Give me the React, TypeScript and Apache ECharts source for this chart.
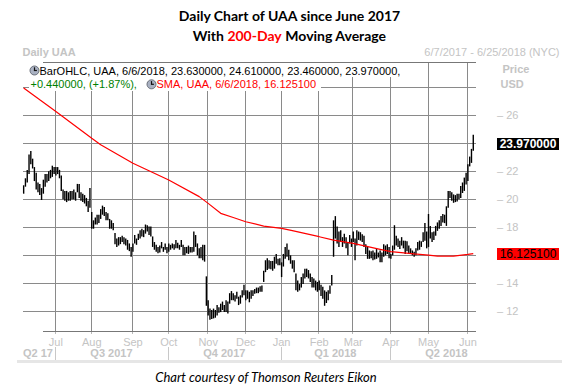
import React, { useEffect, useRef } from 'react';
import * as echarts from 'echarts';

const MONTH_NAMES = ['Jan', 'Feb', 'Mar', 'Apr', 'May', 'Jun', 'Jul', 'Aug', 'Sep', 'Oct', 'Nov', 'Dec'];
const HOLIDAYS = ['2017-07-04', '2017-09-04', '2017-11-23', '2017-12-25', '2018-01-01', '2018-01-15', '2018-02-19', '2018-03-30', '2018-05-28'];
const FIRST_DAY = '2017-06-07';

// [low, high] for every trading day
const jun17 = [[20.4,21.0],[20.9,21.5],[21.2,22.1],[21.8,23.2],[22.5,23.45],[22.2,22.9],[21.3,22.3],[20.7,21.9],[20.5,21.2],[20.3,21.1],[19.95,20.8],[20.4,21.4],[20.9,21.8],[21.2,21.8],[21.3,22.0],[21.5,22.1],[21.6,22.4],[21.8,22.3]];
const jul17 = [[21.7,22.3],[21.8,22.3],[21.5,22.1],[20.6,21.7],[20.0,20.7],[19.9,20.6],[19.8,20.6],[19.9,20.5],[19.9,20.6],[20.0,20.6],[20.0,20.7],[19.9,20.5],[20.5,21.1],[20.1,21.1],[19.9,20.5],[19.8,20.4],[19.7,20.3],[19.5,20.1],[19.1,19.9],[19.4,20.8]];
const aug17 = [[17.9,19.1],[17.9,18.5],[18.2,18.7],[18.2,18.9],[18.3,18.9],[18.6,19.3],[18.9,19.55],[18.8,19.45],[18.5,19.1],[18.5,19.0],[17.9,18.6],[17.9,18.5],[17.8,18.3],[16.8,17.6],[16.6,17.2],[16.7,17.3],[16.8,17.3],[16.95,17.4],[16.8,17.3],[16.7,17.2],[16.4,17.1],[16.3,16.85],[15.9,16.6]];
const sep17 = [[16.25,16.85],[16.85,17.45],[16.75,17.2],[17.1,17.55],[17.2,17.8],[17.35,17.9],[17.3,17.8],[17.55,18.2],[17.7,18.15],[17.45,18.05],[17.35,18.05],[16.6,17.35],[16.4,16.95],[16.25,16.75],[16.15,16.6],[16.2,16.7],[16.5,16.95],[16.25,16.6],[16.4,16.85],[16.15,16.6]];
const oct17 = [[16.25,16.85],[16.4,16.75],[16.5,16.85],[16.4,16.8],[16.5,17.1],[16.5,16.9],[16.4,16.75],[16.6,17.1],[16.0,16.75],[16.0,16.6],[16.15,16.6],[16.1,16.7],[16.2,16.6],[16.2,16.6],[16.25,17.7],[16.6,17.45],[16.0,16.85],[15.8,16.5],[15.8,16.6],[15.65,16.75],[15.55,16.75],[12.4,14.5]];
const nov17 = [[11.7,12.8],[11.4,12.2],[11.45,12.1],[11.5,12.2],[11.55,12.1],[11.7,12.45],[11.9,12.3],[11.95,12.55],[12.1,12.7],[11.95,12.45],[11.95,12.8],[11.85,12.7],[12.55,13.3],[12.8,13.45],[12.8,13.3],[12.7,13.15],[12.9,13.4],[12.45,13.05],[12.55,13.15],[13.0,13.5],[13.15,13.9]];
const dec17 = [[12.8,13.5],[12.9,13.5],[12.65,13.4],[12.9,13.5],[13.1,13.5],[13.25,13.6],[13.3,13.7],[13.3,13.7],[13.4,13.8],[13.4,13.85],[14.1,14.9],[14.8,15.65],[14.95,15.8],[15.05,15.65],[15.0,15.6],[14.9,15.6],[15.05,15.9],[15.4,16.1],[15.3,15.75],[15.3,15.8]];
const jan18 = [[14.45,15.5],[15.2,16.1],[15.75,16.6],[15.9,16.85],[15.65,16.4],[15.4,16.0],[15.05,15.65],[14.8,15.65],[13.5,14.7],[13.4,14.2],[13.5,13.95],[13.7,14.45],[13.95,14.7],[14.35,15.05],[14.45,15.05],[14.35,14.95],[14.1,14.7],[13.7,14.45],[13.7,14.35],[13.5,14.2],[13.4,14.1]];
const feb18 = [[13.5,14.2],[13.1,13.9],[12.9,13.75],[12.4,13.5],[12.6,13.4],[12.8,13.5],[13.25,13.85],[13.85,14.6],[15.9,18.5],[17.2,18.8],[16.85,18.05],[16.6,17.7],[16.95,17.8],[16.6,17.3],[16.85,17.55],[16.5,17.3],[16.0,16.95],[16.85,17.45],[16.6,17.2]];
const mar18 = [[16.95,17.7],[15.65,17.2],[16.7,17.8],[17.1,17.7],[17.05,17.65],[16.95,17.5],[16.6,17.4],[16.1,16.8],[15.75,16.6],[15.75,16.35],[15.8,16.3],[15.65,16.35],[15.7,16.2],[15.75,16.45],[15.85,16.2],[15.5,16.35],[15.5,16.2],[15.9,16.8],[16.0,16.7],[16.1,16.8],[15.8,16.6]];
const apr18 = [[15.75,16.1],[16.0,16.7],[16.4,18.15],[16.7,17.4],[16.6,17.2],[16.45,17.05],[16.7,17.3],[16.5,17.05],[16.1,17.05],[16.3,17.0],[16.1,16.7],[16.1,16.5],[16.0,16.35],[15.9,16.25],[16.0,16.5],[16.35,16.95],[16.4,17.05],[16.6,17.0],[16.95,17.65],[17.05,18.3],[16.5,17.7]];
const may18 = [[16.6,18.95],[17.2,18.1],[16.95,17.65],[17.1,17.7],[17.4,18.1],[17.75,18.35],[17.9,18.5],[18.1,18.8],[18.35,18.95],[18.3,18.9],[18.1,19.5],[19.4,20.6],[20.1,20.6],[19.9,20.5],[19.75,20.35],[19.8,20.3],[19.85,20.4],[20.0,20.4],[20.1,20.95],[20.45,21.2],[20.6,21.55],[21.05,21.9]];
const jun18 = [[21.3,22.5],[22.35,23.05],[22.6,23.6],[23.46,24.61]];

const BARS = [...jun17, ...jul17, ...aug17, ...sep17, ...oct17, ...nov17, ...dec17, ...jan18, ...feb18, ...mar18, ...apr18, ...may18, ...jun18];

const LAST_DATE = '6/6/2018';
const LAST_OPEN = 23.63;
const LAST_HIGH = 24.61;
const LAST_LOW = 23.46;
const LAST_CLOSE = 23.97;
const LAST_CHANGE = 0.44;
const LAST_CHANGE_PCT = 1.87;

// 200-day SMA read at points along the red line
const SMA_DATES = ['2017-06-07','2017-06-20','2017-07-03','2017-08-01','2017-08-08','2017-09-01','2017-10-02','2017-10-25','2017-11-01','2017-11-10','2017-11-21','2017-12-01','2017-12-15','2018-01-02','2018-01-10','2018-02-01','2018-02-13','2018-03-01','2018-03-22','2018-04-02','2018-04-19','2018-05-01','2018-05-08','2018-05-21','2018-06-01','2018-06-06'];
const SMA_VALUES = [27.95,27.1,26.26,24.36,23.9,22.57,21.38,20.19,19.71,19.0,18.7,18.4,18.09,17.93,17.76,17.33,17.09,16.86,16.43,16.26,16.1,16.02,15.95,15.95,16.07,16.1251];
const SMA_LAST = 16.1251;

const Y_MIN = 10.6;
const Y_MAX = 29.8;
const Y_GRID = [12, 14, 16, 18, 20, 22, 24, 26, 28];
const Y_TICK_LABELS = [12, 14, 16, 18, 20, 22, 24, 26];
const QUARTER_NAMES = ['Q2 17', 'Q3 2017', 'Q4 2017', 'Q1 2018', 'Q2 2018'];

function tradingDays(start: string, count: number): string[] {
  const out: string[] = [];
  const d = new Date(start + 'T00:00:00Z');
  while (out.length < count) {
    const iso = d.toISOString().slice(0, 10);
    const wd = d.getUTCDay();
    if (wd !== 0 && wd !== 6 && !HOLIDAYS.includes(iso)) out.push(iso);
    d.setUTCDate(d.getUTCDate() + 1);
  }
  return out;
}

const CATS = tradingDays(FIRST_DAY, BARS.length + 1);
const MONTH_STARTS: number[] = [];
CATS.forEach((c, i) => { if (i > 0 && c.slice(0, 7) !== CATS[i - 1].slice(0, 7)) MONTH_STARTS.push(i); });
const QUARTER_STARTS = MONTH_STARTS.filter((i) => [1, 4, 7, 10].includes(+CATS[i].slice(5, 7)));
const QUARTER_LABEL_AT: Record<number, string> = {};
{
  const s = [0, ...QUARTER_STARTS];
  s.forEach((st, k) => {
    let idx: number;
    if (k === 0) idx = Math.floor(s[1] / 2) - 1;
    else if (k < s.length - 1) idx = Math.floor((st + s[k + 1]) / 2);
    else idx = st + 31;
    QUARTER_LABEL_AT[idx] = QUARTER_NAMES[k];
  });
}

const FONT = '"Liberation Sans", Arial, sans-serif';
const LIGHT = '#c4c4c4';
const GRID = '#8a8a8a';
const GRID_LEFT = 22.76;
const GRID_RIGHT = 92.04;
const GRID_TOP = 62;
const GRID_BOTTOM = 57;
const W = 568;
const H = 388;
// legend text rows (the rules stop short of them)
const LEGEND1 = { x1: 29, x2: 408, y1: 64, y2: 77 };
const LEGEND2 = { x1: 29, x2: 321, y1: 77, y2: 91 };

function fmt(v: number) { return v.toFixed(6); }

export default function App() {
  const ref = useRef<HTMLDivElement>(null);
  useEffect(() => {
    if (!ref.current) return;
    const chart = echarts.init(ref.current, undefined, { renderer: 'svg' });
    const barData = BARS.map((b, i) => [i, b[0], b[1]]);
    const smaData = SMA_DATES.map((d, i) => [CATS.indexOf(d), SMA_VALUES[i]]);

    const option: any = {
      animation: false,
      grid: { left: GRID_LEFT, right: GRID_RIGHT, top: GRID_TOP, bottom: GRID_BOTTOM, containLabel: false },
      xAxis: [
        {
          type: 'category', data: CATS, boundaryGap: true,
          axisLine: { show: false }, axisTick: { show: false }, splitLine: { show: false },
          axisLabel: {
            interval: (i: number) => MONTH_STARTS.includes(i),
            formatter: (v: string) => MONTH_NAMES[+v.slice(5, 7) - 1],
            color: LIGHT, fontSize: 11, fontFamily: FONT, margin: 6, lineHeight: 10,
          },
        },
        {
          type: 'category', data: CATS, boundaryGap: true, position: 'bottom', offset: 16,
          axisLine: { show: false }, axisTick: { show: false }, splitLine: { show: false },
          axisLabel: {
            interval: (i: number) => QUARTER_LABEL_AT[i] !== undefined,
            formatter: (v: string) => QUARTER_LABEL_AT[CATS.indexOf(v)] || '',
            color: LIGHT, fontSize: 11, fontFamily: FONT, fontWeight: 'bold', margin: 1, lineHeight: 10,
          },
        },
      ],
      yAxis: {
        type: 'value', position: 'right', min: Y_MIN, max: Y_MAX, splitNumber: 10,
        axisLine: { show: false }, axisTick: { show: false }, splitLine: { show: false },
        axisLabel: {
          margin: 21, color: LIGHT, fontSize: 11, fontFamily: FONT,
          showMinLabel: false, showMaxLabel: false,
          formatter: (v: number) => {
            const r = Math.round(v * 100) / 100;
            if (!Y_TICK_LABELS.includes(r)) return '';
            if (Math.abs(r - LAST_CLOSE) < 0.5 || Math.abs(r - SMA_LAST) < 0.5) return '';
            return '\u2013 ' + r;
          },
        },
      },
      series: [
        {
          type: 'custom', name: 'BarOHLC', data: barData, encode: { x: 0, y: [1, 2] }, z: 3,
          renderItem: (params: any, api: any) => {
            const i = api.value(0);
            const lo = api.coord([i, api.value(1)]);
            const hi = api.coord([i, api.value(2)]);
            return { type: 'line', shape: { x1: lo[0], y1: lo[1], x2: hi[0], y2: hi[1] }, style: { stroke: '#000', lineWidth: 1.4 } };
          },
        },
        {
          type: 'line', name: 'SMA', data: smaData, symbol: 'none', showSymbol: false, z: 4,
          lineStyle: { color: '#ff0000', width: 1.2 },
        },
      ],
    };
    chart.setOption(option);

    const n = CATS.length;
    const plotW = W - GRID_LEFT - GRID_RIGHT;
    const plotH = H - GRID_TOP - GRID_BOTTOM;
    let cx0 = Number(chart.convertToPixel({ xAxisIndex: 0 }, 0));
    let cx1 = Number(chart.convertToPixel({ xAxisIndex: 0 }, 1));
    if (!isFinite(cx0) || !isFinite(cx1) || cx1 <= cx0) {
      cx0 = GRID_LEFT + plotW / n / 2;
      cx1 = cx0 + plotW / n;
    }
    const bw = cx1 - cx0;
    const xb = (i: number) => cx0 - bw / 2 + i * bw;
    const py = (v: number) => {
      const p = Number(chart.convertToPixel({ yAxisIndex: 0 }, v));
      return isFinite(p) ? p : GRID_TOP + (Y_MAX - v) / (Y_MAX - Y_MIN) * plotH;
    };
    const xL = Math.round(xb(0));
    const xR = Math.round(xb(n));
    const yT = Math.round(py(Y_MAX));
    const yB = Math.round(py(Y_MIN));

    const hr = (x1: number, x2: number, y: number, h: number, fill: string, z = 1) => ({
      type: 'rect', z, silent: true, shape: { x: x1, y: Math.round(y), width: x2 - x1, height: h }, style: { fill },
    });
    const vr = (x: number, y1: number, y2: number, fill: string, z = 1) => ({
      type: 'rect', z, silent: true, shape: { x: Math.round(x), y: y1, width: 1, height: y2 - y1 }, style: { fill },
    });

    // grid rules, kept out of the legend rows
    const rules: any[] = [];
    Y_GRID.forEach((v) => {
      const y = Math.round(py(v));
      if (y >= LEGEND2.y1 && y < LEGEND2.y2) {
        rules.push(hr(xL, LEGEND2.x1, y, 1, GRID));
        rules.push(hr(LEGEND2.x2, xR, y, 1, GRID));
      } else if (y >= LEGEND1.y1 && y < LEGEND1.y2) {
        rules.push(hr(xL, LEGEND1.x1, y, 1, GRID));
        rules.push(hr(LEGEND1.x2, xR, y, 1, GRID));
      } else rules.push(hr(xL, xR, y, 1, GRID));
    });
    MONTH_STARTS.forEach((i) => {
      const x = xb(i);
      const top = x < LEGEND2.x2 ? LEGEND2.y2 : x < LEGEND1.x2 ? LEGEND1.y2 : yT;
      rules.push(vr(x, top, yB, GRID));
      rules.push(vr(x, yB, yB + 3, '#b8b8b8'));
    });
    QUARTER_STARTS.forEach((i) => rules.push(vr(xb(i), yB + 16, yB + 29, '#c8c8c8')));
    rules.push(hr(xL + 20, xR, yT, 1, '#777'));
    rules.push(hr(xL + 20, xR, yB, 1, '#777'));
    rules.push(hr(17, 562, 360, 3, '#e6e6e6'));

    const clock = (cx: number, cy: number) => ({
      type: 'group', z: 110,
      children: [
        { type: 'circle', shape: { cx, cy, r: 4.5 }, style: { fill: '#a9b1c2', stroke: '#505560', lineWidth: 0.8 }, z: 110 },
        { type: 'rect', shape: { x: cx - 0.6, y: cy - 3.2, width: 1.2, height: 3.2 }, style: { fill: '#111' }, z: 111 },
        { type: 'rect', shape: { x: cx - 0.6, y: cy - 0.6, width: 3, height: 1.2 }, style: { fill: '#111' }, z: 111 },
      ],
    });
    const txt = (x: number, y: number, text: string, font: string, fill: string, align = 'left') => ({
      type: 'text', x, y, z: 112,
      style: { text, font, fill, textAlign: align, textVerticalAlign: 'middle' },
    });
    const flag = (v: number, text: string, fill: string, bg: string, bold: boolean) => ({
      type: 'group', z: 120,
      children: [
        { type: 'rect', z: 120, shape: { x: xR + 21, y: Math.round(py(v)) - 6, width: 62, height: 12 }, style: { fill: bg } },
        { type: 'text', z: 121, x: xR + 21 + 31, y: Math.round(py(v)), style: { text, font: `${bold ? 'bold ' : ''}12px ${FONT}`, fill, textAlign: 'center', textVerticalAlign: 'middle' } },
      ],
    });

    const line1 = `BarOHLC, UAA, ${LAST_DATE}, ${fmt(LAST_OPEN)}, ${fmt(LAST_HIGH)}, ${fmt(LAST_LOW)}, ${fmt(LAST_CLOSE)},`;
    const line2g = `+${fmt(LAST_CHANGE)}, (+${LAST_CHANGE_PCT.toFixed(2)}%),`;
    const line2r = `SMA, UAA, ${LAST_DATE}, ${fmt(SMA_LAST)}`;

    const graphics: any[] = [
      { type: 'group', z: 1, silent: true, children: rules },
      flag(LAST_CLOSE, fmt(LAST_CLOSE), '#fff', '#000', true),
      flag(SMA_LAST, fmt(SMA_LAST), '#000', '#ff0000', false),
      txt(289.5, 15, 'Daily Chart of UAA since June 2017', 'bold 14px Lato', '#000', 'center'),
      {
        type: 'text', x: 289.5, y: 35, z: 112,
        style: {
          text: '{a|With }{r|200-Day}{a| Moving Average}',
          textAlign: 'center', textVerticalAlign: 'middle',
          rich: {
            a: { fontFamily: 'Lato', fontWeight: 'bold', fontSize: 14, fill: '#000' },
            r: { fontFamily: 'Lato', fontWeight: 'bold', fontSize: 14, fill: '#ff0000' },
          },
        },
      },
      txt(22.5, 52, 'Daily UAA', `bold 11px ${FONT}`, LIGHT),
      txt(559.5, 52, '6/7/2017 - 6/25/2018 (NYC)', `11px ${FONT}`, LIGHT, 'right'),
      clock(34.5, 70.5),
      txt(39.5, 70.7, line1, `11px ${FONT}`, '#000'),
      txt(30.5, 84.3, line2g, `11px ${FONT}`, '#008000'),
      clock(151.5, 84.3),
      txt(156.5, 84.3, line2r, `11px ${FONT}`, '#ff0000'),
      txt(502.5, 68.5, 'Price', `bold 11px ${FONT}`, LIGHT),
      txt(500.5, 83.5, 'USD', `bold 11px ${FONT}`, LIGHT),
      txt(266, 377, 'Chart courtesy of Thomson Reuters Eikon', 'italic 13px Lato', '#000', 'center'),
    ];
    chart.setOption({ graphic: graphics });
    return () => chart.dispose();
  }, []);
  return <div ref={ref} style={{ position: 'absolute', left: 0, top: 0, width: W, height: H, background: '#fff' }} />;
}
